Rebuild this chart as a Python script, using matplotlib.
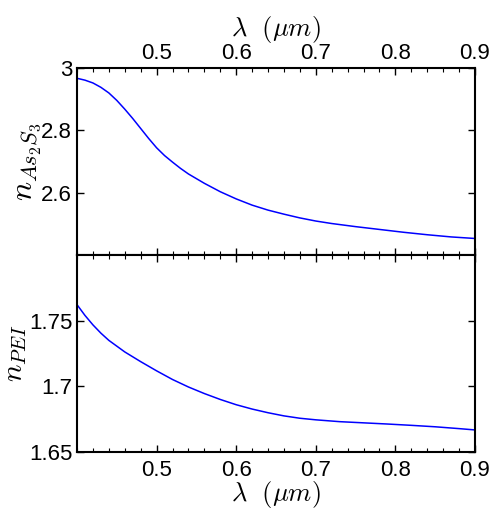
import matplotlib.pyplot as plt
from matplotlib.ticker import MultipleLocator

plt.rcParams["font.family"] = ["Liberation Sans", "DejaVu Sans"]
plt.rcParams["mathtext.fontset"] = "cm"

# wavelength in um
wl_as = [0.40, 0.41, 0.42, 0.43, 0.44, 0.45, 0.46, 0.47, 0.48, 0.49, 0.50, 0.51, 0.52, 0.53,
         0.54, 0.56, 0.58, 0.60, 0.62, 0.64, 0.66, 0.68, 0.70, 0.72, 0.75, 0.78, 0.81,
         0.84, 0.87, 0.90]
n_as2s3 = [2.967, 2.961, 2.952, 2.938, 2.920, 2.896, 2.868, 2.838, 2.806, 2.774, 2.744, 2.719,
           2.698, 2.678, 2.660, 2.630, 2.603, 2.580, 2.560, 2.544, 2.531, 2.519, 2.509, 2.501,
           2.491, 2.482, 2.473, 2.465, 2.458, 2.453]

wl_pei = [0.40, 0.41, 0.42, 0.43, 0.44, 0.46, 0.48, 0.50, 0.52, 0.54, 0.56, 0.58, 0.60,
          0.62, 0.64, 0.66, 0.68, 0.70, 0.73, 0.76, 0.79, 0.82, 0.85, 0.88, 0.90]
n_pei = [1.7622, 1.7540, 1.7468, 1.7405, 1.7350, 1.7262, 1.7188, 1.7118, 1.7052, 1.6995, 1.6945,
         1.6900, 1.6860, 1.6827, 1.6799, 1.6775, 1.6757, 1.6745, 1.6731, 1.6722, 1.6713, 1.6703,
         1.6692, 1.6678, 1.6668]

W, H = 493, 511
fig = plt.figure(figsize=(W / 100, H / 100), dpi=100)
ax1 = fig.add_axes([77 / W, (H - 255) / H, 398 / W, 187 / H])
ax2 = fig.add_axes([77 / W, (H - 452) / H, 398 / W, 197 / H])

for ax in (ax1, ax2):
    ax.set_xlim(0.4, 0.9)
    ax.xaxis.set_major_locator(MultipleLocator(0.1))
    ax.xaxis.set_minor_locator(MultipleLocator(0.02))
    ax.tick_params(which="both", direction="in", top=True, right=True, labelsize=16)
    ax.tick_params(which="major", length=5, width=1)
    ax.tick_params(which="minor", length=3, width=0.8)
    for s in ax.spines.values():
        s.set_linewidth(1.5)

ax1.plot(wl_as, n_as2s3, color="#0000ff", lw=1.1, solid_joinstyle="round")
ax1.set_ylim(2.4, 3.0)
ax1.set_yticks([2.6, 2.8, 3.0])
ax1.set_yticklabels(["2.6", "2.8", "3"])
ax1.tick_params(axis="x", labelbottom=False, labeltop=True, pad=3)
ax1.xaxis.set_label_position("top")
ax1.set_xticks([0.5, 0.6, 0.7, 0.8, 0.9])
ax1.set_xlabel(r"$\lambda\ \ (\mu m)$", fontsize=19, labelpad=5)
ax1.set_ylabel(r"$n_{As_2S_3}$", fontsize=23, labelpad=-1)

ax2.plot(wl_pei, n_pei, color="#0000ff", lw=1.1, solid_joinstyle="round")
ax2.set_ylim(1.65, 1.80)
ax2.set_yticks([1.65, 1.70, 1.75])
ax2.set_yticklabels(["1.65", "1.7", "1.75"])
ax2.set_xticks([0.5, 0.6, 0.7, 0.8, 0.9])
ax2.tick_params(axis="x", pad=6)
ax2.set_xlabel(r"$\lambda\ \ (\mu m)$", fontsize=19, labelpad=-2)
ax2.set_ylabel(r"$n_{PEI}$", fontsize=21, labelpad=0)

fig.savefig("out.png", dpi=100)
